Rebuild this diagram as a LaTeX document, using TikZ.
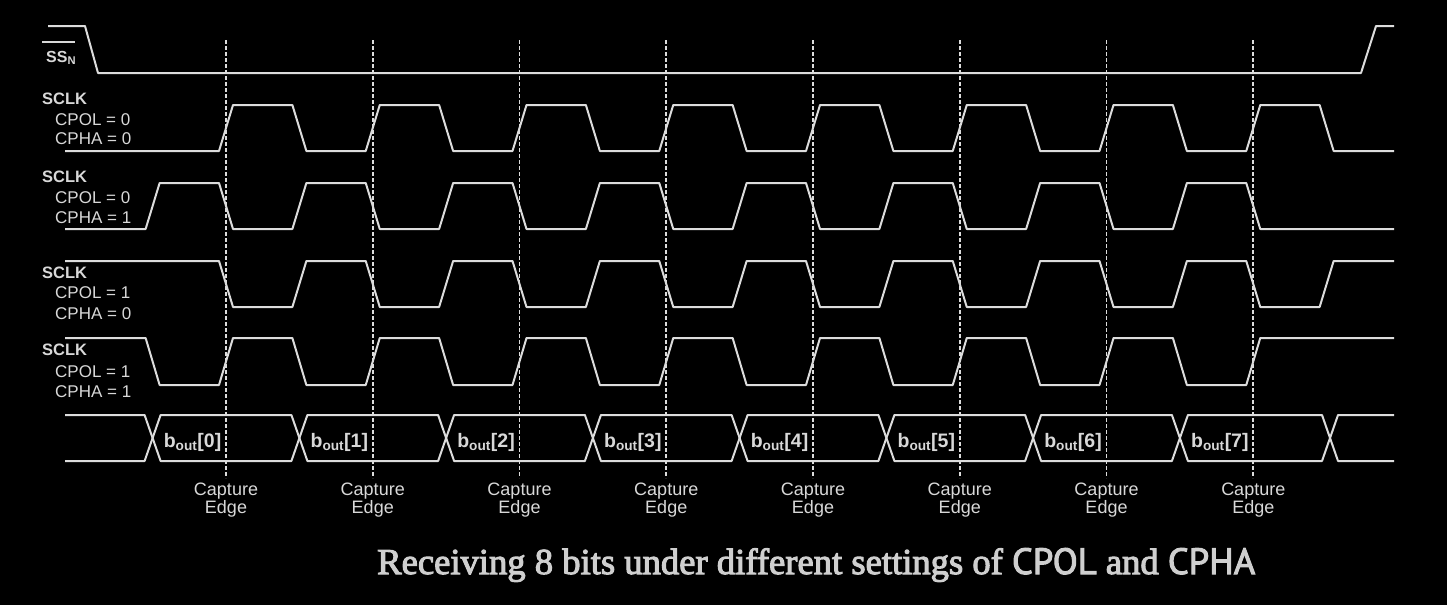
\documentclass[tikz,border=0pt]{standalone}
\usepackage{fontspec}
\usepackage{graphicx}
\setmainfont{Liberation Sans}
\newfontfamily\capserif[BoldFont={Liberation Serif}, BoldFeatures={FakeBold=2.8}]{Liberation Serif}
\newfontfamily\capsans[BoldFont={PT Sans}, BoldFeatures={FakeBold=2.8}]{PT Sans}
\definecolor{wv}{HTML}{DCDCDC}
\definecolor{tx}{HTML}{D8D8D8}
\definecolor{captx}{HTML}{CFCFCF}
\begin{document}
\begin{tikzpicture}[x=1pt,y=-1pt,
  wave/.style={draw=wv, line width=2pt, line join=round},
  capline/.style={draw=wv, line width=1.7pt, dash pattern=on 3.5pt off 2.5pt},
  lbl/.style={text=tx, inner sep=0pt, anchor=base west, font=\fontsize{17}{19}\selectfont},
  lblb/.style={lbl, font=\fontsize{16.5}{18}\selectfont\bfseries},
  bitlbl/.style={text=tx, inner sep=0pt, anchor=base west, font=\fontsize{19.5}{22}\selectfont\bfseries},
  edgelbl/.style={text=tx, inner sep=0pt, anchor=base, font=\fontsize{18}{20}\selectfont},
  caption/.style={text=captx, inner sep=0pt, anchor=base west}
]
\fill[black] (0,0) rectangle (1447,605);
\useasboundingbox (0,0) rectangle (1447,605);

% capture edge dashed lines and labels
\foreach \c [count=\i] in {226,372.75,519.5,666.25,813,959.75,1106.5,1253.25}{
  \draw[capline] (\c,40) -- (\c,478);
  \node[edgelbl] (cap\i) at (\c,495) {Capture};
  \node[edgelbl] (edg\i) at (\c,513) {Edge};
}

% SS_N
\draw[wave] (48,26) -- (85,26) -- (98,73) -- (1361,73) -- (1376,26) -- (1394,26);
\node[lblb, font=\fontsize{16}{18}\selectfont\bfseries] (ssn) at (46,62) {SS\textsubscript{N}};
\draw[draw=tx, line width=1.5pt] (42,42) -- (75,42);

% left labels
\node[lblb] (s1) at (42,104) {SCLK};
\node[lbl] (p1) at (55,125) {CPOL = 0};
\node[lbl] (h1) at (55,144) {CPHA = 0};
\node[lblb] (s2) at (42,182) {SCLK};
\node[lbl] (p2) at (55,203) {CPOL = 0};
\node[lbl] (h2) at (55,223) {CPHA = 1};
\node[lblb] (s3) at (42,278) {SCLK};
\node[lbl] (p3) at (55,298) {CPOL = 1};
\node[lbl] (h3) at (55,319) {CPHA = 0};
\node[lblb] (s4) at (42,355) {SCLK};
\node[lbl] (p4) at (55,377) {CPOL = 1};
\node[lbl] (h4) at (55,397) {CPHA = 1};

% row 1: CPOL=0 CPHA=0
\draw[wave] (65,151) foreach \k in {0,...,7}{
  -- ({226+146.75*\k-7},151) -- ({226+146.75*\k+7},105)
  -- ({299.375+146.75*\k-7},105) -- ({299.375+146.75*\k+7},151) } -- (1394,151);
% row 2: CPOL=0 CPHA=1
\draw[wave] (65,229) foreach \k in {0,...,7}{
  -- ({152.625+146.75*\k-7},229) -- ({152.625+146.75*\k+7},183)
  -- ({226+146.75*\k-7},183) -- ({226+146.75*\k+7},229) } -- (1394,229);
% row 3: CPOL=1 CPHA=0
\draw[wave] (65,261) foreach \k in {0,...,7}{
  -- ({226+146.75*\k-7},261) -- ({226+146.75*\k+7},307)
  -- ({299.375+146.75*\k-7},307) -- ({299.375+146.75*\k+7},261) } -- (1394,261);
% row 4: CPOL=1 CPHA=1
\draw[wave] (65,338) foreach \k in {0,...,7}{
  -- ({152.625+146.75*\k-7},338) -- ({152.625+146.75*\k+7},385)
  -- ({226+146.75*\k-7},385) -- ({226+146.75*\k+7},338) } -- (1394,338);

% data row
\draw[wave] (65,415) -- (144.6,415) -- (152.6,438) -- (144.6,461) -- (65,461);
\foreach \a/\b [count=\i from 0] in {152.6/299.4,299.4/446.1,446.1/592.9,592.9/739.6,739.6/886.4,886.4/1033.1,1033.1/1179.9,1179.9/1330}{
  \draw[wave] (\a,438) -- ({\a+8},415) -- ({\b-8},415) -- (\b,438) -- ({\b-8},461) -- ({\a+8},461) -- cycle;
  \node[bitlbl] (b\i) at ({\a+11},447) {b\textsubscript{out}[\i]};
}
\draw[wave] (1394,415) -- (1338,415) -- (1330,438) -- (1338,461) -- (1394,461);

% caption
\node[caption] (cap) at (377,574) {\resizebox{878pt}{26pt}{\capserif\bfseries\fontsize{32}{36}\selectfont Receiving 8 bits under different settings of {\capsans\bfseries CPOL} and {\capsans\bfseries CPHA}}};
\end{tikzpicture}
\end{document}
